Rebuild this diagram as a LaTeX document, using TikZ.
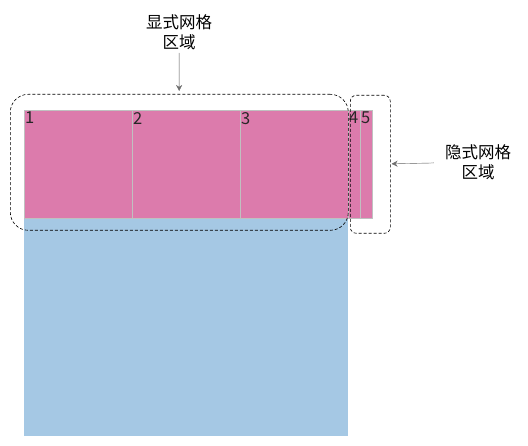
\documentclass[tikz,border=0pt]{standalone}
\usepackage{fontspec}
\setmainfont{Noto Sans CJK SC}
\usetikzlibrary{positioning,arrows.meta}
\definecolor{cellpink}{RGB}{220,123,172}
\definecolor{cellgray}{RGB}{192,192,192}
\definecolor{restblue}{RGB}{165,200,228}
\definecolor{pointgray}{RGB}{110,110,110}
\begin{document}
\begin{tikzpicture}[
        x=1pt,
        y=-1pt,
        font=\fontsize{16.5}{20}\selectfont
    ]
    \tikzset{
        cell/.style = {draw=cellgray, fill=cellpink, line width=1pt, minimum height=108pt, inner sep=0pt, anchor=north west},
        num/.style = {anchor=north west, inner xsep=1pt, inner ysep=0pt, yshift=-2pt, text=black!85},
        area/.style = {draw=black, dash pattern=on 3pt off 2pt, line width=0.6pt, inner sep=0pt, anchor=north west},
        note/.style = {align=center, inner sep=3pt},
        pointer/.style = {-{Stealth[length=6pt,width=6pt]}, draw=pointgray, fill=pointgray, thin},
    }
    \useasboundingbox (0,0) rectangle (528,446);
    \node[fill=restblue, anchor=north west, minimum width=324pt, minimum height=218pt, inner sep=0pt] (rest) at (24,218) {};
    %
    \node[cell, minimum width=108pt] at (24,110) (c1) {};
    \node[cell, minimum width=108pt] at (132,110) (c2) {};
    \node[cell, minimum width=108pt] at (240,110) (c3) {};
    \node[cell, minimum width=12pt] at (348,110) (c4) {};
    \node[cell, minimum width=12pt] at (360,110) (c5) {};
    %
    \node[num] at (c1.north west) (n1) {1};
    \node[num] at (c2.north west) (n2) {2};
    \node[num] at (c3.north west) (n3) {3};
    \node[num] at (c4.north west) (n4) {4};
    \node[num] at (c5.north west) (n5) {5};
    %
    \node[area, rounded corners=18pt, minimum width=338pt, minimum height=136pt] at (10,94) (explicit) {};
    \node[area, rounded corners=6pt, minimum width=40pt, minimum height=138pt] at (350,95) (implicit) {};
    %
    \node[note] at (179,32) (explicitlbl) {显式网格\\区域};
    \node[note] at (478,162) (implicitlbl) {隐式网格\\区域};
    \draw[pointer, shorten >=3pt] (explicitlbl) -- (explicit);
    \draw[pointer, shorten <=8pt, shorten >=1pt] (implicitlbl) -- (implicit);
\end{tikzpicture}
\end{document}
